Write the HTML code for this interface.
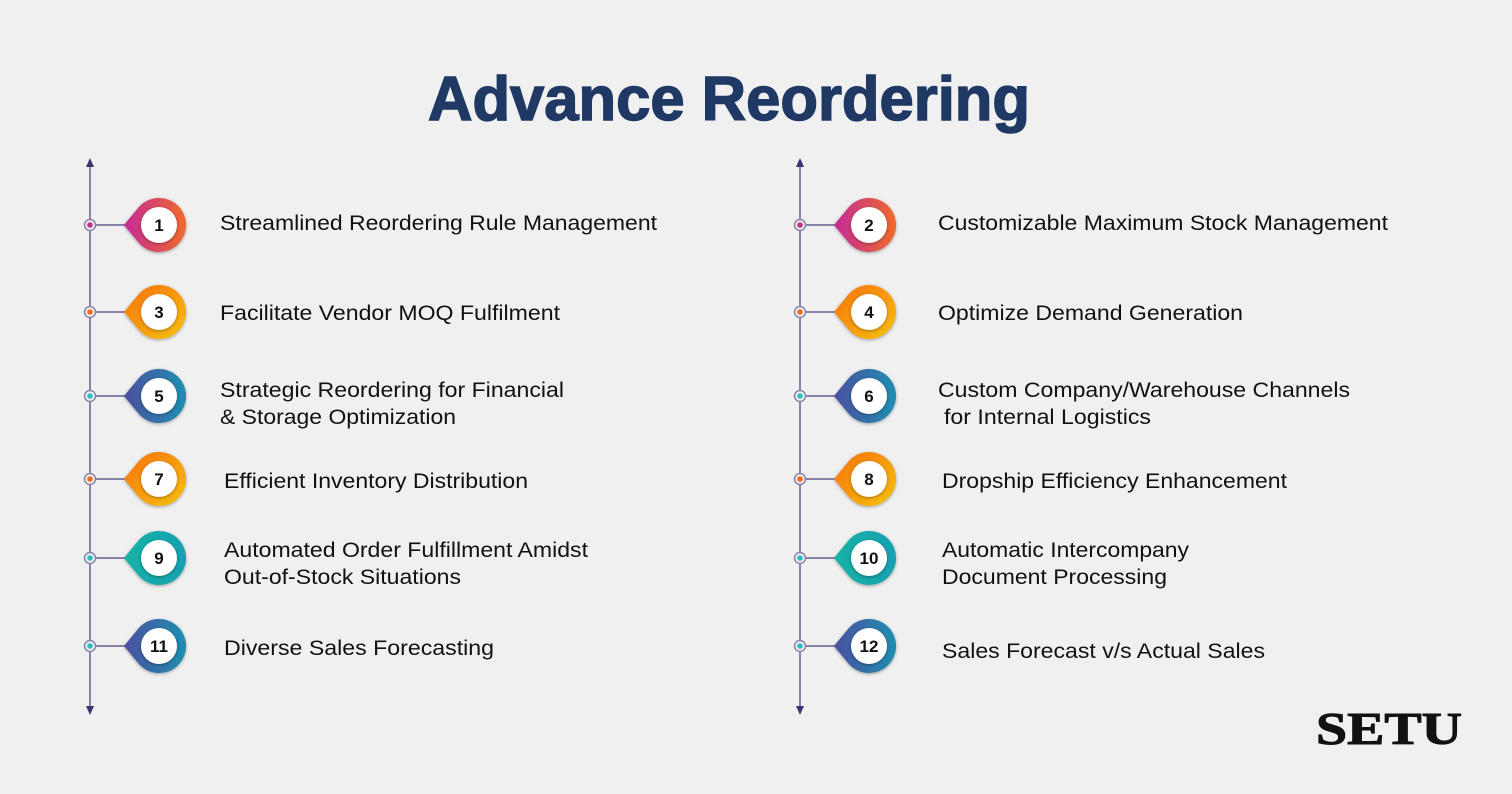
<!DOCTYPE html>
<html><head><meta charset="utf-8"><style>
body{margin:0;background:#f0f0f0;}
svg{display:block;font-family:"Liberation Sans",Arial,sans-serif;}
.t{font-size:21.5px;fill:#111;}
.n{font-size:17px;font-weight:bold;fill:#111;text-anchor:middle;}
</style></head><body>
<svg width="1512" height="794" viewBox="0 0 1512 794">
<defs>
<linearGradient id="gp" x1="0" y1="0" x2="1" y2="0"><stop offset="0" stop-color="#c42a98"/><stop offset="1" stop-color="#f06a2a"/></linearGradient>
<linearGradient id="go" x1="0" y1="0" x2="1" y2="1"><stop offset="0" stop-color="#f7700f"/><stop offset="1" stop-color="#f5c20e"/></linearGradient>
<linearGradient id="gb" x1="0" y1="0" x2="1" y2="0"><stop offset="0" stop-color="#4b4fa0"/><stop offset="1" stop-color="#1e8fb0"/></linearGradient>
<linearGradient id="gt" x1="0" y1="0" x2="1" y2="0"><stop offset="0" stop-color="#12b3a6"/><stop offset="1" stop-color="#1aa0b0"/></linearGradient>
<filter id="sh"><feDropShadow dx="0" dy="1" stdDeviation="1.5" flood-opacity="0.35"/></filter>
</defs>
<text x="428" y="120" textLength="602" lengthAdjust="spacingAndGlyphs" font-size="62" font-weight="bold" fill="#1f3864" stroke="#1f3864" stroke-width="1.5">Advance Reordering</text>
<g stroke="#8a82a8" stroke-width="2">
<line x1="90" y1="165" x2="90" y2="708"/><line x1="800" y1="165" x2="800" y2="708"/>
</g>
<g fill="#3d3570">
<polygon points="86,167 94,167 90,158"/><polygon points="86,706 94,706 90,715"/>
<polygon points="796,167 804,167 800,158"/><polygon points="796,706 804,706 800,715"/>
</g>
<g id="rows"></g>
<text x="1316" y="744" textLength="146" lengthAdjust="spacingAndGlyphs" font-family="'Liberation Serif',serif" font-weight="bold" font-size="46" fill="#111" stroke="#111" stroke-width="1">SETU</text>
<g class="t" lengthAdjust="spacingAndGlyphs">
<text x="220" y="230" textLength="437" lengthAdjust="spacingAndGlyphs">Streamlined Reordering Rule Management</text>
<text x="938" y="230" textLength="450" lengthAdjust="spacingAndGlyphs">Customizable Maximum Stock Management</text>
<text x="220" y="320" textLength="340" lengthAdjust="spacingAndGlyphs">Facilitate Vendor MOQ Fulfilment</text>
<text x="938" y="320" textLength="305" lengthAdjust="spacingAndGlyphs">Optimize Demand Generation</text>
<text x="220" y="397" textLength="344" lengthAdjust="spacingAndGlyphs">Strategic Reordering for Financial</text>
<text x="220" y="424" textLength="236" lengthAdjust="spacingAndGlyphs">&amp; Storage Optimization</text>
<text x="938" y="397" textLength="412" lengthAdjust="spacingAndGlyphs">Custom Company/Warehouse Channels</text>
<text x="944" y="424" textLength="207" lengthAdjust="spacingAndGlyphs">for Internal Logistics</text>
<text x="224" y="488" textLength="304" lengthAdjust="spacingAndGlyphs">Efficient Inventory Distribution</text>
<text x="942" y="488" textLength="345" lengthAdjust="spacingAndGlyphs">Dropship Efficiency Enhancement</text>
<text x="224" y="557" textLength="364" lengthAdjust="spacingAndGlyphs">Automated Order Fulfillment Amidst</text>
<text x="224" y="584" textLength="237" lengthAdjust="spacingAndGlyphs">Out-of-Stock Situations</text>
<text x="942" y="557" textLength="247" lengthAdjust="spacingAndGlyphs">Automatic Intercompany</text>
<text x="942" y="584" textLength="225" lengthAdjust="spacingAndGlyphs">Document Processing</text>
<text x="224" y="655" textLength="270" lengthAdjust="spacingAndGlyphs">Diverse Sales Forecasting</text>
<text x="942" y="658" textLength="323" lengthAdjust="spacingAndGlyphs">Sales Forecast v/s Actual Sales</text>
</g>
</svg>
<script>
var rows=[[225,"gp","#c0338a"],[312,"go","#f26b1d"],[396,"gb","#2bbfbf"],[479,"go","#f26b1d"],[558,"gt","#2bbfbf"],[646,"gb","#2bbfbf"]];
var g=document.getElementById("rows"),h="";
rows.forEach(function(r,i){[[90,159,2*i+1],[800,869,2*i+2]].forEach(function(c){
var y=r[0],ax=c[0],cx=c[1];
h+='<line x1="'+(ax+5)+'" y1="'+y+'" x2="'+(cx-30)+'" y2="'+y+'" stroke="#8a82a8" stroke-width="2"/>';
h+='<circle cx="'+ax+'" cy="'+y+'" r="5.5" fill="#f0f0f0" stroke="#8a82a8" stroke-width="1.5"/><circle cx="'+ax+'" cy="'+y+'" r="2.8" fill="'+r[2]+'"/>';
h+='<g transform="translate('+cx+','+y+')"><path d="M-35,0 L-20.5,-17.5 A27,27 0 1 1 -20.5,17.5 Z" fill="url(#'+r[1]+')" filter="url(#sh)"/><circle r="18" fill="#fff" filter="url(#sh)"/><text class="n" y="6">'+c[2]+'</text></g>';
});});
g.innerHTML=h;
</script>
</body></html>
